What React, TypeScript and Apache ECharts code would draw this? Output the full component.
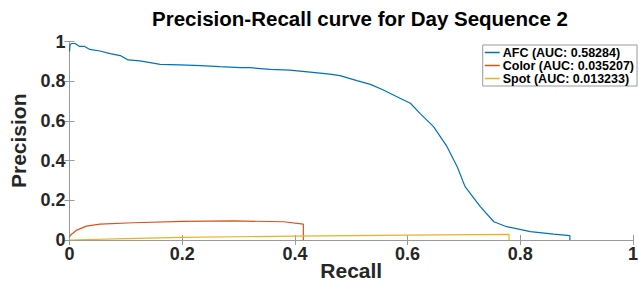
import React, { useEffect, useRef } from "react";
import * as echarts from "echarts";

const afcRecall = [0, 0.001, 0.004, 0.01, 0.018, 0.027, 0.036, 0.054, 0.072, 0.09, 0.104, 0.125, 0.161, 0.196, 0.232, 0.267, 0.303, 0.32, 0.356, 0.391, 0.427, 0.462, 0.48, 0.51, 0.534, 0.557, 0.59, 0.605, 0.622, 0.646, 0.67, 0.688, 0.702, 0.729, 0.753, 0.776, 0.818, 0.859, 0.888, 0.888];
const afcPrecision = [0.95, 0.985, 0.99, 0.99, 0.975, 0.975, 0.96, 0.952, 0.939, 0.929, 0.907, 0.902, 0.885, 0.882, 0.878, 0.873, 0.868, 0.868, 0.86, 0.856, 0.846, 0.836, 0.828, 0.803, 0.784, 0.756, 0.709, 0.689, 0.638, 0.571, 0.47, 0.369, 0.269, 0.168, 0.092, 0.067, 0.042, 0.03, 0.022, 0];

const colorRecall = [0, 0.002, 0.013, 0.03, 0.054, 0.113, 0.202, 0.29, 0.38, 0.415, 0.415];
const colorPrecision = [0.015, 0.025, 0.05, 0.07, 0.08, 0.087, 0.094, 0.096, 0.092, 0.08, 0];

const spotRecall = [0, 0.1, 0.2, 0.4, 0.6, 0.78, 0.78];
const spotPrecision = [0, 0.007, 0.013, 0.02, 0.025, 0.028, 0];

const seriesNames = ["AFC (AUC: 0.58284)", "Color (AUC: 0.035207)", "Spot (AUC: 0.013233)"];
const seriesColors = ["#0072BD", "#D95319", "#EDB120"];

const zip = (a: number[], b: number[]) => a.map((v, i) => [v, b[i]]);

export default function App() {
  const ref = useRef<HTMLDivElement>(null);
  useEffect(() => {
    if (!ref.current) return;
    const chart = echarts.init(ref.current, undefined, { renderer: "svg" });
    const font = "'Liberation Sans', Arial, Helvetica, sans-serif";
    const axisColor = "#9a9a9a";
    const baseX = {
      type: "value" as const,
      min: 0,
      max: 1,
      interval: 0.2,
      splitLine: { show: false },
      axisLine: { show: true, lineStyle: { color: axisColor, width: 1 } },
      axisTick: { show: true, inside: true, length: 5, lineStyle: { color: axisColor } },
    };
    const datas = [zip(afcRecall, afcPrecision), zip(colorRecall, colorPrecision), zip(spotRecall, spotPrecision)];
    chart.setOption({
      animation: false,
      backgroundColor: "#ffffff",
      title: {
        text: "Precision-Recall curve for Day Sequence 2",
        left: 355,
        textAlign: "center",
        top: 3,
        textStyle: { fontFamily: font, fontWeight: "bold", fontSize: 20.5, color: "#000" },
      },
      grid: { left: 69.5, right: 6, top: 41.5, bottom: 44, containLabel: false, outerBoundsMode: "none" },
      legend: {
        orient: "vertical",
        right: 2,
        top: 45,
        data: seriesNames.map((name) => ({ name, icon: "rect" })),
        itemWidth: 15,
        itemHeight: 1.5,
        itemGap: 0,
        padding: [1, 3, 1, 2],
        borderColor: "#9a9a9a",
        borderWidth: 1,
        backgroundColor: "#ffffff",
        textStyle: { fontFamily: font, fontWeight: "bold", fontSize: 12.5, color: "#000", lineHeight: 12.6, padding: [0, 0, 0, -2] },
      },
      xAxis: [
        {
          ...baseX,
          position: "bottom",
          name: "Recall",
          nameLocation: "middle",
          nameGap: 20,
          nameMoveOverlap: false,
          nameTextStyle: { fontFamily: font, fontWeight: "bold", fontSize: 21, color: "#262626" },
          axisLabel: { fontFamily: font, fontWeight: "bold", fontSize: 18, color: "#262626", margin: 5 },
        },
        { ...baseX, position: "top", axisLabel: { show: false } },
      ],
      yAxis: [
        {
          ...baseX,
          position: "left",
          name: "Precision",
          nameLocation: "middle",
          nameGap: 41,
          nameMoveOverlap: false,
          nameTextStyle: { fontFamily: font, fontWeight: "bold", fontSize: 21, color: "#262626" },
          axisLabel: { fontFamily: font, fontWeight: "bold", fontSize: 18, color: "#262626", margin: 4 },
        },
        { ...baseX, position: "right", axisLabel: { show: false } },
      ],
      series: seriesNames.map((name, i) => ({
        name,
        type: "line",
        xAxisIndex: 0,
        yAxisIndex: 0,
        data: datas[i],
        symbol: "none",
        showSymbol: false,
        color: seriesColors[i],
        lineStyle: { color: seriesColors[i], width: 1.2 },
      })),
    });
    return () => chart.dispose();
  }, []);
  return <div ref={ref} style={{ position: "fixed", left: 0, top: 0, width: 639, height: 284 }} />;
}
